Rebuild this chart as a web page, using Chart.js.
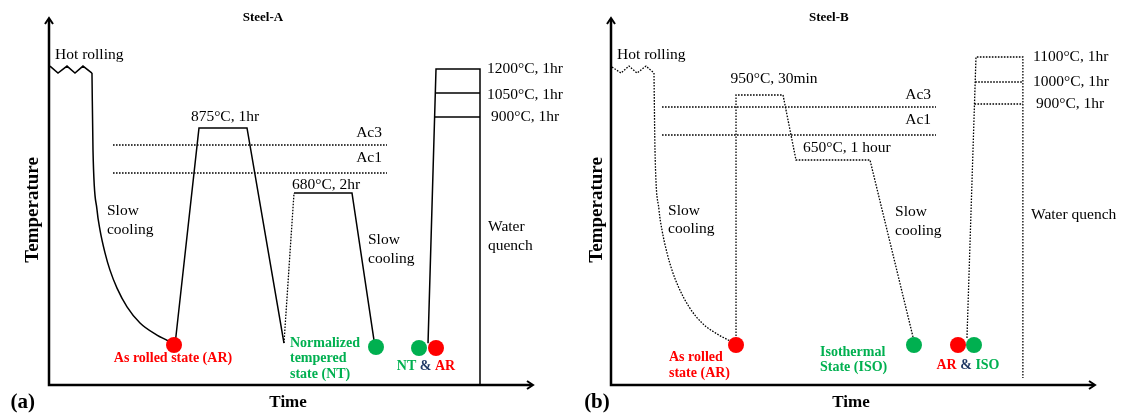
<!DOCTYPE html>
<html>
<head>
<meta charset="utf-8">
<script src="https://cdn.jsdelivr.net/npm/chart.js@4.4.1/dist/chart.umd.min.js"></script>
<style>
  html, body { margin: 0; padding: 0; background: #fff; }
  #wrap { position: relative; width: 1128px; height: 417px; }
  canvas { position: absolute; top: 0; }
</style>
</head>
<body>
<div id="wrap">
  <canvas id="steelA" width="564" height="417" style="left:0"></canvas>
  <canvas id="steelB" width="564" height="417" style="left:564px"></canvas>
</div>
<script>
// ==================== DATA (schematic time / relative temperature, 0-100) ====================
const RED = '#FF0000', GREEN = '#00B050', NAVY = '#1F3864';

// ---- Steel-A ----
const hotRollA_t = [0.2, 1.86, 3.72, 5.37, 7.02, 8.88];
const hotRollA_T = [86.9, 85.0, 86.9, 85.0, 86.9, 85.0];
const coolA_t = [8.88, 9.09, 9.92, 10.54, 11.57, 12.60, 14.05, 16.12, 18.80, 22.31, 24.59, 25.83];
const coolA_T = [85.0, 64.0, 47.7, 42.2, 36.0, 31.3, 26.4, 21.3, 16.9, 13.6, 12.0, 10.9];
const normA_t = [26.03, 30.99, 40.91, 48.55];
const normA_T = [10.9, 70.03, 70.03, 11.44];
const reheatA_t = [48.55, 50.62];
const reheatA_T = [11.44, 52.32];
const temperA_t = [50.62, 62.60, 67.36];
const temperA_T = [52.32, 52.32, 10.35];
const quenchA_t = [78.31, 79.96, 89.05, 89.05];
const quenchA_T = [11.4, 86.10, 86.10, 0];
const soak1050A_t = [79.79, 89.05], soak1050A_T = [79.56, 79.56];
const soak900A_t = [79.75, 89.05], soak900A_T = [73.02, 73.02];
const acA_t = [13.22, 69.83];
const ac3A = 65.4, ac1A = 57.77;
const dotsA_t = [25.83, 67.56, 76.45, 79.96];
const dotsA_T = [10.9, 10.35, 10.08, 10.08];
const dotsA_c = [RED, GREEN, GREEN, RED];

// ---- Steel-B ----
const hotRollB_t = [0.21, 2.07, 3.72, 5.37, 7.23, 8.88];
const hotRollB_T = [86.65, 85.0, 86.9, 85.0, 86.9, 85.0];
const coolB_t = [8.88, 9.09, 9.92, 10.54, 11.57, 12.60, 14.05, 16.12, 18.80, 22.31, 24.59, 25.83];
const coolB_T = [85.0, 64.0, 47.7, 42.2, 36.0, 31.3, 26.4, 21.3, 16.9, 13.6, 12.0, 10.9];
const isoB_t = [25.83, 25.83, 35.54, 38.22, 53.51, 62.40];
const isoB_T = [10.9, 79.02, 79.02, 61.31, 61.31, 13.08];
const quenchB_t = [73.55, 75.41, 85.1, 85.1];
const quenchB_T = [12.81, 89.37, 89.37, 1.91];
const soak1000B_t = [75.25, 85.1], soak1000B_T = [82.56, 82.56];
const soak900B_t = [75.10, 85.1], soak900B_T = [76.57, 76.57];
const acB_t = [10.54, 67.15];
const ac3B = 75.75, ac1B = 68.12;
const dotsB_t = [25.83, 62.60, 71.69, 75.0];
const dotsB_T = [10.9, 10.9, 10.9, 10.9];
const dotsB_c = [RED, GREEN, RED, GREEN];

// ---- Text annotations ----
const labelsA = [
  { t: 'Steel-A', x: 44.2, y: 100, a: 'center', bold: true, size: 13 },
  { t: 'Hot rolling', x: 1.24, y: 89.92, a: 'left' },
  { t: '875°C, 1hr', x: 36.36, y: 73.02, a: 'center' },
  { t: 'Ac3', x: 68.8, y: 68.66, a: 'right' },
  { t: 'Ac1', x: 68.8, y: 61.85, a: 'right' },
  { t: '680°C, 2hr', x: 50.21, y: 54.5, a: 'left' },
  { t: '1200°C, 1hr', x: 90.5, y: 86.1, a: 'left' },
  { t: '1050°C, 1hr', x: 90.5, y: 79.02, a: 'left' },
  { t: '900°C, 1hr', x: 91.32, y: 73.02, a: 'left' },
  { t: 'Slow', x: 11.98, y: 47.41, a: 'left' },
  { t: 'cooling', x: 11.98, y: 42.23, a: 'left' },
  { t: 'Slow', x: 65.91, y: 39.51, a: 'left' },
  { t: 'cooling', x: 65.91, y: 34.33, a: 'left' },
  { t: 'Water', x: 90.7, y: 43.05, a: 'left' },
  { t: 'quench', x: 90.7, y: 37.87, a: 'left' },
  { t: 'As rolled state (AR)', x: 25.62, y: 7.36, a: 'center', bold: true, size: 14, c: RED },
  { t: 'Normalized', x: 49.79, y: 11.44, a: 'left', bold: true, size: 14, c: GREEN },
  { t: 'tempered', x: 49.79, y: 7.36, a: 'left', bold: true, size: 14, c: GREEN },
  { t: 'state (NT)', x: 49.79, y: 3.0, a: 'left', bold: true, size: 14, c: GREEN },
  { parts: [{ t: 'NT ', c: GREEN }, { t: '& ', c: NAVY }, { t: 'AR', c: RED }], x: 77.89, y: 5.18, a: 'center', bold: true, size: 14 },
  { t: 'Temperature', x: -3.3, y: 47.7, a: 'center', bold: true, size: 19, rot: true },
  { t: 'Time', x: 49.4, y: -4.9, a: 'center', bold: true, size: 17 },
  { t: '(a)', x: -5.4, y: -4.9, a: 'center', bold: true, size: 21 }
];

const labelsB = [
  { t: 'Steel-B', x: 45.0, y: 100, a: 'center', bold: true, size: 13 },
  { t: 'Hot rolling', x: 1.24, y: 89.92, a: 'left' },
  { t: '950°C, 30min', x: 33.68, y: 83.38, a: 'center' },
  { t: 'Ac3', x: 66.12, y: 79.02, a: 'right' },
  { t: 'Ac1', x: 66.12, y: 72.21, a: 'right' },
  { t: '650°C, 1 hour', x: 39.67, y: 64.58, a: 'left' },
  { t: '1100°C, 1hr', x: 87.19, y: 89.37, a: 'left' },
  { t: '1000°C, 1hr', x: 87.19, y: 82.56, a: 'left' },
  { t: '900°C, 1hr', x: 87.81, y: 76.57, a: 'left' },
  { t: 'Slow', x: 11.78, y: 47.41, a: 'left' },
  { t: 'cooling', x: 11.78, y: 42.51, a: 'left' },
  { t: 'Slow', x: 58.68, y: 47.14, a: 'left' },
  { t: 'cooling', x: 58.68, y: 41.96, a: 'left' },
  { t: 'Water quench', x: 86.78, y: 46.32, a: 'left' },
  { t: 'As rolled', x: 11.98, y: 7.63, a: 'left', bold: true, size: 14, c: RED },
  { t: 'state (AR)', x: 11.98, y: 3.27, a: 'left', bold: true, size: 14, c: RED },
  { t: 'Isothermal', x: 43.18, y: 8.99, a: 'left', bold: true, size: 14, c: GREEN },
  { t: 'State (ISO)', x: 43.18, y: 4.9, a: 'left', bold: true, size: 14, c: GREEN },
  { parts: [{ t: 'AR ', c: RED }, { t: '& ', c: NAVY }, { t: 'ISO', c: GREEN }], x: 73.76, y: 5.45, a: 'center', bold: true, size: 14 },
  { t: 'Temperature', x: -2.9, y: 47.7, a: 'center', bold: true, size: 19, rot: true },
  { t: 'Time', x: 49.6, y: -4.9, a: 'center', bold: true, size: 17 },
  { t: '(b)', x: -2.9, y: -4.9, a: 'center', bold: true, size: 21 }
];

// ==================== HELPERS ====================
const pts = (t, T) => t.map((x, i) => ({ x, y: T[i] }));

function path(t, T, dotted, curve) {
  return {
    data: pts(t, T),
    borderColor: '#000',
    borderWidth: dotted ? 1.3 : 1.5,
    borderDash: dotted ? [1.6, 1.4] : [],
    pointRadius: 0,
    tension: 0,
    cubicInterpolationMode: curve ? 'monotone' : 'default',
    fill: false,
    clip: false,
    order: 1
  };
}

function dots(t, T, colors) {
  return {
    data: pts(t, T),
    showLine: false,
    pointRadius: 8,
    pointHoverRadius: 8,
    pointBackgroundColor: colors,
    pointBorderWidth: 0,
    clip: false,
    order: 0
  };
}

const axesPlugin = {
  id: 'arrowAxes',
  afterDatasetsDraw(chart) {
    const { ctx, chartArea: { left, right, top, bottom } } = chart;
    ctx.save();
    ctx.strokeStyle = '#000';
    ctx.lineWidth = 2.5;
    ctx.lineCap = 'butt';
    ctx.beginPath();
    ctx.moveTo(left, top + 1);
    ctx.lineTo(left, bottom);
    ctx.lineTo(right - 1, bottom);
    ctx.stroke();
    ctx.lineWidth = 2;
    ctx.beginPath();
    ctx.moveTo(left - 4, top + 6); ctx.lineTo(left, top); ctx.lineTo(left + 4, top + 6);
    ctx.moveTo(right - 6, bottom - 4); ctx.lineTo(right, bottom); ctx.lineTo(right - 6, bottom + 4);
    ctx.stroke();
    ctx.restore();
  }
};

function labelPlugin(items) {
  return {
    id: 'textLabels',
    afterDraw(chart) {
      const { ctx, scales: { x, y } } = chart;
      items.forEach(l => {
        const px = x.getPixelForValue(l.x), py = y.getPixelForValue(l.y);
        ctx.save();
        ctx.font = `${l.bold ? 'bold ' : ''}${l.size || 15.5}px "Liberation Serif", serif`;
        ctx.textBaseline = 'middle';
        ctx.textAlign = 'left';
        const parts = l.parts || [{ t: l.t, c: l.c || '#000' }];
        const w = parts.reduce((s, p) => s + ctx.measureText(p.t).width, 0);
        let cx = px, cy = py;
        if (l.rot) {
          ctx.translate(px, py);
          ctx.rotate(-Math.PI / 2);
          cx = 0; cy = 0;
        }
        let start = l.a === 'left' ? cx : l.a === 'right' ? cx - w : cx - w / 2;
        parts.forEach(p => {
          ctx.fillStyle = p.c;
          ctx.fillText(p.t, start, cy);
          start += ctx.measureText(p.t).width;
        });
        ctx.restore();
      });
    }
  };
}

function makePanel(id, datasets, labels, pad) {
  return new Chart(document.getElementById(id), {
    type: 'line',
    data: { datasets },
    options: {
      responsive: false,
      animation: false,
      devicePixelRatio: 1,
      layout: { padding: pad },
      scales: {
        x: { type: 'linear', min: 0, max: 100, display: false },
        y: { type: 'linear', min: 0, max: 100, display: false }
      },
      plugins: { legend: { display: false }, tooltip: { enabled: false } }
    },
    plugins: [axesPlugin, labelPlugin(labels)]
  });
}

// ==================== CHARTS ====================
makePanel('steelA', [
  dots(dotsA_t, dotsA_T, dotsA_c),
  path(hotRollA_t, hotRollA_T, false),
  path(coolA_t, coolA_T, false, true),
  path(normA_t, normA_T, false),
  path(reheatA_t, reheatA_T, true),
  path(temperA_t, temperA_T, false),
  path(quenchA_t, quenchA_T, false),
  path(soak1050A_t, soak1050A_T, false),
  path(soak900A_t, soak900A_T, false),
  path(acA_t, [ac3A, ac3A], true),
  path(acA_t, [ac1A, ac1A], true)
], labelsA, { left: 49, right: 31, top: 18, bottom: 32 });

makePanel('steelB', [
  dots(dotsB_t, dotsB_T, dotsB_c),
  path(hotRollB_t, hotRollB_T, true),
  path(coolB_t, coolB_T, true, true),
  path(isoB_t, isoB_T, true),
  path(quenchB_t, quenchB_T, true),
  path(soak1000B_t, soak1000B_T, true),
  path(soak900B_t, soak900B_T, true),
  path(acB_t, [ac3B, ac3B], true),
  path(acB_t, [ac1B, ac1B], true)
], labelsB, { left: 47, right: 33, top: 18, bottom: 32 });
</script>
</body>
</html>
